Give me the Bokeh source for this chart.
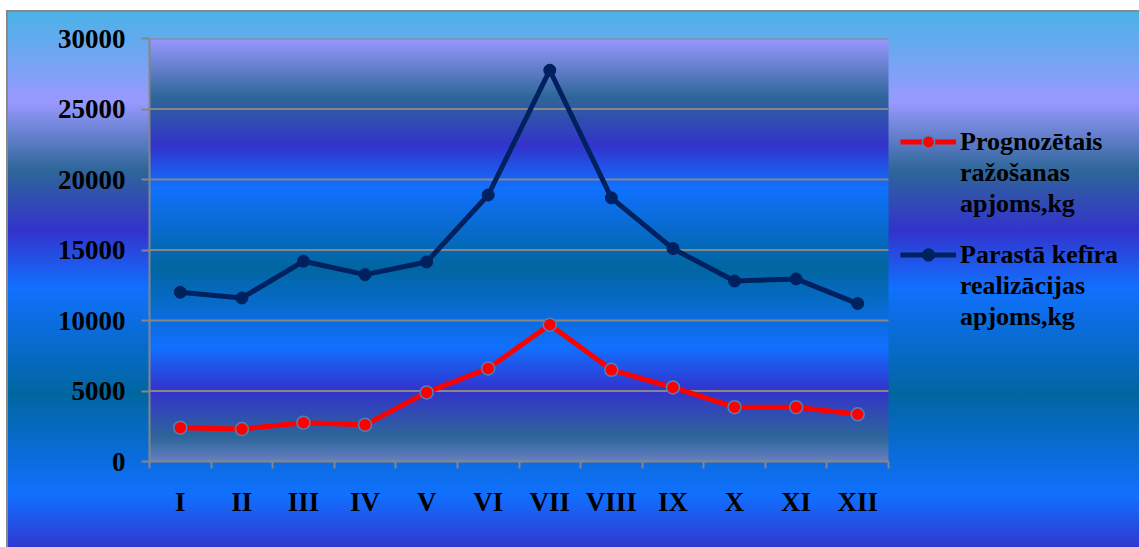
import numpy as np
from bokeh.plotting import figure
from bokeh.models import (LinearAxis, Range1d, FixedTicker, Legend, LegendItem)
from bokeh.embed import file_html
from bokeh.resources import INLINE

# Months (Roman numerals) and monthly volumes, kg
months = ["I", "II", "III", "IV", "V", "VI", "VII", "VIII", "IX", "X", "XI", "XII"]
prognoze = [2400, 2300, 2750, 2600, 4900, 6600, 9700, 6500, 5250, 3850, 3850, 3350]
realizacija = [12000, 11600, 14200, 13250, 14150, 18900, 27750, 18700, 15100, 12800, 12950, 11200]
y_ticks = [0, 5000, 10000, 15000, 20000, 25000, 30000]

series_names = [["Prognozētais", "ražošanas", "apjoms,kg"],
                ["Parastā kefīra", "realizācijas", "apjoms,kg"]]

FONT = "Liberation Serif"
GRID = "#868686"

W, H = 1139, 547
FL, FR, FT, FB = 149, 888, 38, 461      # plot-area edges, px
n = len(months)
xs = [i + 0.5 for i in range(n)]        # category centres
YMAX = 30000

# The frame runs to the right edge so the legend can sit inside it;
# the month scale covers only the left part (0..n)
p = figure(width=W, height=H,
           x_range=Range1d(0, n * (W - FL) / (FR - FL)), y_range=Range1d(0, YMAX),
           output_backend="svg", toolbar_location=None,
           x_axis_location=None,
           min_border_left=FL, min_border_right=0,
           min_border_top=FT, min_border_bottom=H - FB)
p.border_fill_color = None
p.background_fill_color = None
p.outline_line_color = None

# Outer chart area: banded gradient plus a thin grey edge
p.styles = {
    "background": (
        "linear-gradient(#888,#888) 6px 10px / 2px 540px no-repeat,"
        "linear-gradient(#888,#888) 6px 10px / 1140px 2px no-repeat,"
        "linear-gradient(to bottom, #4AB2E6 0%, #9999FF 16.6%, #2E6699 29.3%,"
        " #3333CC 40.5%, #1170FF 51.1%, #0066A0 70.7%, #1170FF 89.4%, #3333CC 100%)"
        " 8px 12px / 1135px 540px no-repeat, #ffffff"
    )
}

# Plot area gradient, drawn as a 1-px wide image stretched over the month span
stops = [(0.000, "#9999FF"), (0.139, "#2E6699"), (0.253, "#3333CC"),
         (0.352, "#1170FF"), (0.541, "#0066A0"), (0.730, "#1170FF"),
         (0.832, "#3333CC"), (0.943, "#2E6699"), (1.000, "#6680C4")]
sf = np.array([s[0] for s in stops])
rgb = np.array([[int(c[i:i + 2], 16) for i in (1, 3, 5)] for _, c in stops], dtype=float)
rows = 900
frac_top = 1.0 - (np.arange(rows) + 0.5) / rows
img = np.empty((rows, 1), dtype=np.uint32)
view = img.view(dtype=np.uint8).reshape((rows, 1, 4))
for ch in range(3):
    view[:, 0, ch] = np.round(np.interp(frac_top, sf, rgb[:, ch])).astype(np.uint8)
view[:, 0, 3] = 255
p.image_rgba(image=[img], x=0, y=0, dw=n, dh=YMAX, level="image")

# Horizontal gridlines over the month span only
p.segment(x0=0, x1=n, y0=y_ticks, y1=y_ticks, line_color=GRID, line_width=2,
          level="underlay")
for g in p.grid:
    g.visible = False

# Value axis
p.yaxis.ticker = FixedTicker(ticks=y_ticks)
p.yaxis.minor_tick_line_color = None
p.yaxis.major_tick_in = 0
p.yaxis.major_tick_out = 8
p.yaxis.major_tick_line_color = GRID
p.yaxis.major_tick_line_width = 2
p.yaxis.axis_line_color = GRID
p.yaxis.axis_line_width = 2
p.yaxis.major_label_standoff = 16
p.yaxis.major_label_text_font = FONT
p.yaxis.major_label_text_font_style = "bold"
p.yaxis.major_label_text_font_size = "27px"
p.yaxis.major_label_text_color = "black"

# Month axis: labels at category centres, tick marks on category boundaries
xaxis = LinearAxis(ticker=FixedTicker(ticks=xs, minor_ticks=list(range(n + 1))),
                   major_label_overrides={c: m for c, m in zip(xs, months)},
                   bounds=(0, n))
xaxis.major_tick_in = 0
xaxis.major_tick_out = 0
xaxis.minor_tick_in = 0
xaxis.minor_tick_out = 7
xaxis.minor_tick_line_color = GRID
xaxis.minor_tick_line_width = 2
xaxis.axis_line_color = GRID
xaxis.axis_line_width = 2
xaxis.major_label_standoff = 18
xaxis.major_label_text_font = FONT
xaxis.major_label_text_font_style = "bold"
xaxis.major_label_text_font_size = "27px"
xaxis.major_label_text_color = "black"
p.add_layout(xaxis, "below")

# Series
r_line = p.line(xs, prognoze, line_color="#FF0000", line_width=5, line_join="round")
r_pts = p.scatter(xs, prognoze, size=13, fill_color="#FF0000",
                  line_color="#4F81BD", line_width=1.5)
d_line = p.line(xs, realizacija, line_color="#00215F", line_width=5, line_join="round")
d_pts = p.scatter(xs, realizacija, size=12, fill_color="#00215F",
                  line_color="#00215F", line_width=1)

# Placeholder renderer for the continuation lines of each legend entry
blank = p.scatter([], [], size=0, fill_alpha=0, line_alpha=0)


def make_legend(lines, renderers, top):
    items = [LegendItem(label=lines[0], renderers=renderers)]
    items += [LegendItem(label=t, renderers=[blank]) for t in lines[1:]]
    row_h = 31
    lg = Legend(items=items, location=(900 - FL, FB - (top + row_h * len(lines))))
    lg.background_fill_alpha = 0
    lg.border_line_color = None
    lg.padding = 0
    lg.margin = 0
    lg.spacing = 0
    lg.glyph_width = 56
    lg.glyph_height = row_h
    lg.label_height = row_h
    lg.label_standoff = 4
    lg.label_text_font = FONT
    lg.label_text_font_style = "bold"
    lg.label_text_font_size = "26px"
    lg.label_text_color = "black"
    return lg


p.add_layout(make_legend(series_names[0], [r_line, r_pts], 126), "center")
p.add_layout(make_legend(series_names[1], [d_line, d_pts], 239), "center")

open("out.html", "w").write(file_html(p, INLINE))
